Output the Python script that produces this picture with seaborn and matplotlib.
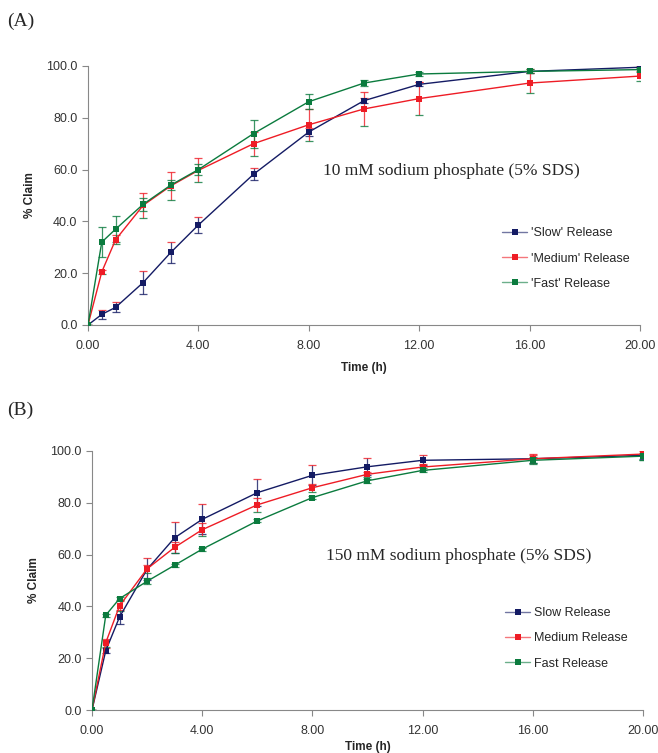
import matplotlib
matplotlib.use("Agg")
import matplotlib.pyplot as plt
from matplotlib.colors import to_rgba
import seaborn as sns
import pandas as pd

# Datos
tiempo = [0, 0.5, 1, 2, 3, 4, 6, 8, 10, 12, 16, 20]

# Panel A: 10 mM fosfato sodico
a_slow = [0, 4.1, 6.8, 16.4, 28.0, 38.6, 58.2, 74.5, 86.6, 92.9, 97.9, 99.5]
a_slow_err = [0, 1.8, 1.9, 4.3, 3.9, 3.2, 2.4, 1.7, 1.0, 0.8, 0.8, 0.6]
a_med = [0, 20.5, 32.9, 46.2, 53.7, 59.7, 70.0, 77.3, 83.4, 87.4, 93.4, 96.1]
a_med_err = [0, 0.8, 1.7, 4.8, 5.5, 4.6, 4.6, 6.1, 6.7, 6.5, 3.7, 2.0]
a_fast = [0, 32.0, 37.0, 46.6, 54.0, 60.0, 73.9, 86.2, 93.4, 96.9, 97.9, 98.6]
a_fast_err = [0, 5.8, 4.9, 2.5, 2.0, 2.2, 5.4, 3.0, 1.3, 0.6, 0.8, 0.8]

# Panel B: 150 mM fosfato sodico
b_slow = [0, 22.9, 35.9, 54.3, 66.5, 73.6, 83.9, 90.6, 93.9, 96.4, 97.0, 98.3]
b_slow_err = [0, 1.0, 2.8, 4.2, 6.0, 5.8, 5.2, 3.9, 3.2, 1.9, 1.5, 1.5]
b_med = [0, 26.0, 40.2, 54.5, 62.8, 69.6, 79.2, 85.8, 91.0, 93.8, 97.0, 98.8]
b_med_err = [0, 1.5, 2.0, 1.5, 2.2, 2.5, 2.6, 1.5, 1.0, 1.0, 2.0, 2.3]
b_fast = [0, 36.6, 43.0, 49.7, 55.9, 62.1, 73.0, 82.0, 88.5, 92.5, 96.4, 98.0]
b_fast_err = [0, 0.6, 0.6, 1.2, 0.6, 0.6, 0.6, 0.6, 0.8, 0.8, 1.2, 1.4]

etiquetas_a = ["'Slow' Release", "'Medium' Release", "'Fast' Release"]
etiquetas_b = ["Slow Release", "Medium Release", "Fast Release"]
colores = ["#141b64", "#ee1c25", "#0b7b3e"]
serif = ['Liberation Serif', 'DejaVu Serif']

sns.set_style("ticks")
plt.rcParams['font.family'] = ['Liberation Sans', 'DejaVu Sans']

fig = plt.figure(figsize=(6.58, 7.53), dpi=100)
ax_a = fig.add_axes([0.1337, 0.5684, 0.8389, 0.344])
ax_b = fig.add_axes([0.1398, 0.0571, 0.8374, 0.344])


def dibujar(ax, series, errores, etiquetas, texto, leyenda_y, pad_x):
    filas = []
    for nombre, valores in zip(etiquetas, series):
        for t, v in zip(tiempo, valores):
            filas.append({"Time (h)": t, "% Claim": v, "serie": nombre})
    datos = pd.DataFrame(filas)
    paleta = dict(zip(etiquetas, colores))
    for nombre, valores, err in zip(etiquetas, series, errores):
        ax.errorbar(tiempo, valores, yerr=err, fmt="none", ecolor=paleta[nombre],
                    elinewidth=0.9, capsize=3, capthick=0.9, alpha=0.8, zorder=2)
    sns.lineplot(data=datos, x="Time (h)", y="% Claim", hue="serie", palette=paleta,
                 marker="s", markersize=5, markeredgewidth=0, linewidth=1.0,
                 ax=ax, legend=True, zorder=3)
    # lineas algo mas claras que los marcadores, como en Excel
    for linea, col in zip(ax.lines, colores):
        linea.set_color(to_rgba(col, 0.8))
        linea.set_markerfacecolor(col)
        linea.set_markeredgecolor(col)
    ax.set_xlim(0, 20)
    ax.set_ylim(0, 100)
    ax.set_xticks([0, 4, 8, 12, 16, 20])
    ax.set_xticklabels([f"{v:.2f}" for v in [0, 4, 8, 12, 16, 20]])
    ax.set_yticks([0, 20, 40, 60, 80, 100])
    ax.set_yticklabels([f"{v:.1f}" for v in [0, 20, 40, 60, 80, 100]])
    ax.tick_params(labelsize=9, colors="#333333", length=4, width=0.8, color="#888888")
    ax.tick_params(axis="x", pad=7)
    for lado in ["left", "bottom"]:
        ax.spines[lado].set_color("#888888")
        ax.spines[lado].set_linewidth(0.8)
    sns.despine(ax=ax)
    ax.set_xlabel("Time (h)", fontsize=8.5, fontweight="bold", labelpad=pad_x)
    ax.set_ylabel("% Claim", fontsize=8.5, fontweight="bold", labelpad=7)
    ax.text(0.425, 0.595, texto, transform=ax.transAxes, fontsize=12.5,
            family=serif, va="center")
    leg = ax.legend(title=None, frameon=False, loc="upper left", bbox_to_anchor=(0.73, leyenda_y),
                    fontsize=9, handlelength=2.0, labelspacing=1.05, handletextpad=0.3,
                    markerscale=0.8)
    for h, col in zip(leg.legend_handles, colores):
        h.set_color(to_rgba(col, 0.6))
        h.set_markerfacecolor(col)
        h.set_markeredgecolor(col)


dibujar(ax_a, [a_slow, a_med, a_fast], [a_slow_err, a_med_err, a_fast_err],
        etiquetas_a, "10 mM sodium phosphate (5% SDS)", 0.42, 7)
dibujar(ax_b, [b_slow, b_med, b_fast], [b_slow_err, b_med_err, b_fast_err],
        etiquetas_b, "150 mM sodium phosphate (5% SDS)", 0.44, 3)

fig.text(0.011, 0.972, "(A)", fontsize=14, family=serif, va="center")
fig.text(0.011, 0.455, "(B)", fontsize=14, family=serif, va="center")

fig.savefig("out.png", dpi=100)
